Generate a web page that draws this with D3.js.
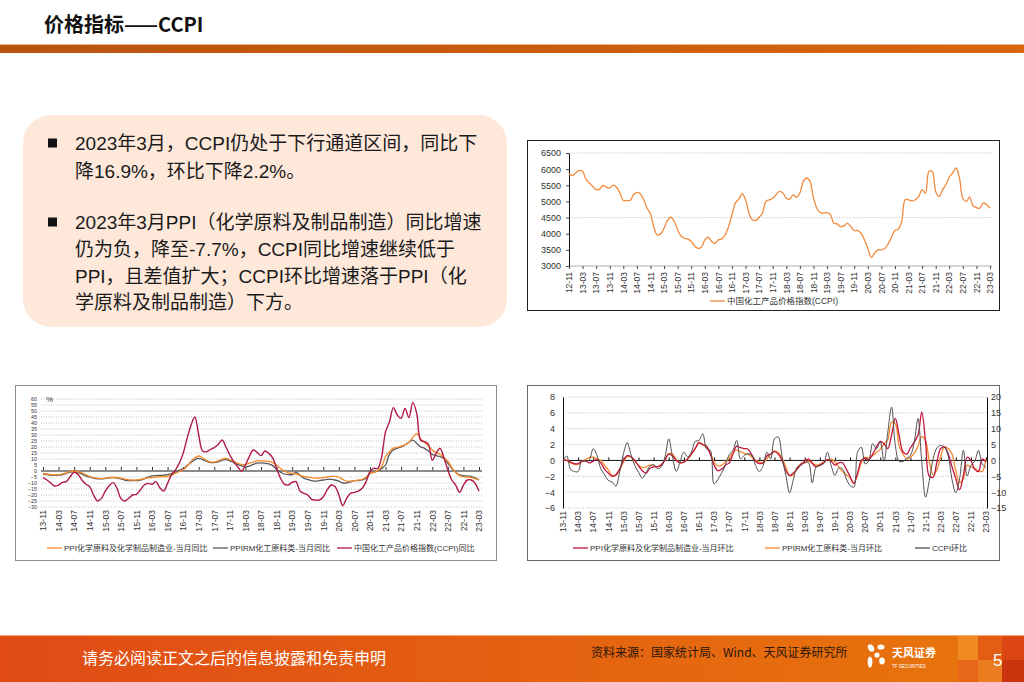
<!DOCTYPE html>
<html>
<head>
<meta charset="utf-8">
<title>价格指标——CCPI</title>
<script src="https://cdn.jsdelivr.net/npm/d3@7"></script>
<style>
  body { margin: 0; background: #fff; }
  svg { display: block; font-family: "Liberation Sans", "Noto Sans CJK SC", sans-serif; }
  .narrow { font-family: "Liberation Sans Narrow", "Liberation Sans", "Noto Sans CJK SC", sans-serif; }
  .cjk { font-family: "Noto Sans CJK SC", "Liberation Sans", sans-serif; }
</style>
</head>
<body>
<svg id="slide" width="1024" height="682"></svg>
<script>
// ---- data ----
// CCPI level, monthly from 2012-11 to 2023-03
var levelTicks = ['12-11','13-03','13-07','13-11','14-03','14-07','14-11','15-03','15-07','15-11','16-03','16-07',
  '16-11','17-03','17-07','17-11','18-03','18-07','18-11','19-03','19-07','19-11','20-03','20-07','20-11',
  '21-03','21-07','21-11','22-03','22-07','22-11','23-03'];
var levelYTicks = [3000, 3500, 4000, 4500, 5000, 5500, 6000, 6500];
var levelGrid = [6500, 4500];
var ccpiLevel = [5850, 5800,
  5880, 5960, 5930, 5690, 5570, 5465, 5360, 5380, 5495, 5440, 5410, 5505,
  5440, 5260, 5030, 5030, 5030, 5205, 5280, 5240, 5050, 4790, 4615, 4200,
  3960, 3995, 4170, 4410, 4510, 4380, 4120, 3930, 3860, 3830, 3760, 3620,
  3550, 3580, 3810, 3890, 3760, 3705, 3810, 3840, 3960, 4220, 4585, 4950,
  5070, 5240, 5050, 4640, 4430, 4410, 4510, 4640, 5000, 5050, 5100, 5205,
  5310, 5260, 5100, 5070, 5205, 5130, 5260, 5620, 5725, 5620, 5100, 4790,
  4655, 4640, 4655, 4585, 4325, 4305, 4220, 4245, 4325, 4220, 4100, 4100,
  4015, 3810, 3550, 3270, 3395, 3500, 3500, 3540, 3685, 3890, 4100, 4140,
  4380, 5050, 5050, 5010, 5050, 5155, 5360, 5260, 5930, 5930, 5310, 5155,
  5360, 5515, 5755, 5880, 6035, 5725, 5100, 5000, 5130, 4865, 4810, 4790,
  4950, 4895, 4790];

// year-on-year, % (monthly from 2013-11 to 2023-03)
var rateTicks = levelTicks.slice(3);
var yoyYTicks = [60, 55, 50, 45, 40, 35, 30, 25, 20, 15, 10, 5, 0, -5, -10, -15, -20, -25, -30];
var ppiChemYoY = [
  -2, -2.5, -3, -3, -3.2, -2.5, -1.5, -0.5, 0, -0.5,
  -1.5, -3, -4.5, -5.5, -6, -6.3, -6, -5.5, -5.2, -5.5,
  -6, -6.8, -7.3, -7.5, -7.5, -7, -6.5, -5.8, -5.5, -5,
  -4.8, -4.6, -4.5, -3.5, -2, -0.5, 1, 4, 8, 11,
  12.5, 11, 9, 7.5, 7.5, 8.5, 10, 10.5, 9.5, 8,
  6.5, 5.5, 5.5, 6.5, 7.5, 8.5, 8.5, 8.5, 8, 7,
  5, 2, 0, -1.5, -2, -2.5, -3.5, -4.5, -5, -5.5,
  -6, -6, -5.5, -5, -4.5, -4.5, -5, -7, -8.5, -8.5,
  -8, -7.5, -7, -5, -2, -1.1, 0.3, 3.6, 12, 16,
  19, 19.7, 20.8, 21.7, 24, 27.8, 31.4, 26.7, 24, 21,
  17.5, 15.3, 13.9, 11, 8.3, 2.8, -1.1, -3.9, -4.7, -5,
  -5.5, -6.4, -7.7];
var ppirmYoY = [
  -2.5, -3, -3.5, -3.5, -3.5, -3, -2, -1, -0.5, -1,
  -2.5, -4, -5, -6, -6.5, -6.5, -6.2, -5.8, -5.5, -6,
  -6.5, -7.5, -8, -8, -8, -7.5, -6.5, -5, -4, -3.8,
  -3.6, -3.5, -3, -2.2, -1, 0.5, 2, 4.5, 7, 9.5,
  10.5, 9.5, 8, 7, 7, 7.5, 9, 9.5, 8.5, 7,
  5.5, 4.2, 3.5, 4, 5.5, 6.5, 6.8, 6.5, 6, 4.5,
  1.5, -1, -2.5, -3, -3, -1, -3.5, -6, -7, -8,
  -8.5, -8, -7.5, -7, -7, -7.5, -8.5, -10, -10, -9,
  -8, -8, -7.5, -6, -2, -1, 0, 2.2, 5, 13.9,
  17.5, 18.9, 20, 21.7, 24, 25.8, 23, 20, 18.9, 16.7,
  13.9, 12.8, 12, 10.5, 6.4, 2.2, -1.1, -3.3, -3.9, -4.2,
  -4.4, -5.8, -7.5];
var ccpiYoY = [
  -5.6, -7.5, -10, -12.5, -11.7, -9.4, -8.9, -4.7, -1, -2.8,
  -7.5, -11, -13, -20, -25, -22.8, -16.7, -12.2, -9.7, -14.4,
  -22.8, -25, -22.8, -20, -19.4, -15.8, -11.7, -10.3, -11, -8.9,
  -13.9, -16.7, -10.3, -3.3, 0.8, 6.4, 14.7, 27, 38, 45,
  30, 16.7, 16, 18, 19.4, 22, 25.8, 20, 13.3, 7.8,
  3.6, 0, 5, 12, 17.5, 15.5, 12.8, 16.7, 14.7, 11,
  2.2, -6, -11, -11.7, -9.4, -8.9, -16.7, -18.6, -20, -23.6,
  -24.2, -24.2, -21.4, -15.8, -11.7, -13, -20, -28.9, -22.8, -18.6,
  -17.8, -16.7, -14.4, -8.9, -0.6, 2.2, 2.2, 12, 32.8, 41,
  52.8, 46.7, 43.9, 52.2, 44.4, 57.2, 48, 25.8, 24.4, 22.2,
  9.2, 14.7, 18.9, 11, 0.8, -7.5, -11.7, -17.8, -11.7, -7.5,
  -7.5, -10.3, -16.9];

// month-on-month, % (PPI series on left axis, CCPI on right axis)
var momLeftTicks = [8, 6, 4, 2, 0, -2, -4, -6];
var momRightTicks = [20, 15, 10, 5, 0, -5, -10, -15];
var ppiChemMoM = [
  0.1, 0, -0.2, -0.4, -0.4, -0.1, -0.1, -0.3, -0.1, 0.1,
  -0.3, -1.1, -1.6, -2.0, -1.8, -1.1, 0, 0.6, 0.5, 0,
  -0.7, -1.3, -1.6, -1.0, -0.8, -0.8, -0.6, 0.1, 0.8, 0.6,
  0, -0.3, -0.2, 0.2, 0.8, 1.5, 2.2, 2.0, 1.8, 0.8,
  -0.6, -1.3, -1.1, -0.6, -0.3, 0.8, 1.8, 1.6, 1.5, 1.4,
  0.7, -0.1, -0.4, -0.3, 0.6, 0.8, 1.1, 0.8, 0, -1.3,
  -1.9, -1.6, -1.1, -0.5, -0.1, 0.2, -0.4, -0.8, -0.6, -0.3,
  0.1, -0.1, -0.6, -0.3, -0.3, -1.1, -2.0, -2.9, -1.6, 0,
  0.3, 0.1, 0.8, 1.7, 2.4, 2.1, 1.5, 3.2, 5.3, 3.2,
  1.1, 0.8, 1.6, 2.3, 3.2, 6.1, 2.3, -2.0, -2.1, -0.2,
  1.5, 1.7, 0.8, -0.8, -2.3, -3.7, -1.9, 0.4, 0, -1.1,
  -1.4, 0.2, -0.2];
var ppirmMoM = [
  0.1, 0, -0.3, -0.5, -0.5, -0.2, 0.1, 0.4, 0.4, 0.2,
  0, -0.6, -1.2, -1.9, -1.9, -1.2, -0.2, 0.5, 0.4, -0.1,
  -0.6, -0.9, -0.8, -0.6, -0.7, -0.8, -0.5, 0, 0.9, 0.8,
  0.1, -0.3, -0.2, 0.2, 0.8, 1.5, 2.3, 2.0, 1.6, 0.9,
  -0.2, -0.7, -0.6, -0.2, 0.3, 1.0, 1.3, 1.1, 0.9, 0.8,
  0.4, 0, -0.2, -0.3, 0.2, 0.8, 1.2, 1.0, 0.3, -0.8,
  -1.9, -1.8, -1.0, -0.4, -0.3, -0.1, -0.3, -0.6, -0.5, -0.2,
  0.1, 0.2, -0.2, -0.8, -1.4, -1.8, -2.2, -2.9, -1.8, -0.3,
  0.4, 0.3, 0.6, 1.0, 1.4, 2.1, 2.6, 4.8, 4.6, 1.8,
  0.8, 0.2, 0.4, 0.9, 1.8, 3.0, 2.5, -0.2, -1.8, -1.2,
  0.5, 1.7, 1.5, 0.8, -1.3, -2.8, -2.3, -0.6, -0.8, -1.0,
  -1.3, -1.4, 0.2];
var ccpiMoM = [
  0, 1.4, -2.8, -3.5, -3.5, 0, -0.3, 0.3, 3.7, 1.6,
  -2.6, -4.5, -6.3, -6.8, -8.1, -3.7, 2.1, 5.6, 1.8, -1.6,
  -3.7, -5.6, -3.9, -1.8, -1.3, -2.6, -2.1, 1.1, 6.8, 1.1,
  -3.5, -0.5, 2.6, 1.1, 2.6, 6.0, 6.3, 8.4, 3.7, 3.2,
  -7.4, -6.0, -3.9, -1.4, 1.8, 3.2, 6.3, 0.5, 1.6, 2.1,
  1.6, -1.6, -3.5, -1.6, 2.6, 0.5, 6.8, 7.4, 1.1, -4.7,
  -10.2, -6.0, -2.1, -1.6, -0.7, -0.7, -7.1, -2.1, -1.6, -1.1,
  2.6, -1.6, -4.7, -2.4, -2.6, -5.8, -7.9, -8.4, 2.6, 4.2,
  -1.1, 0, 5.3, 3.7, 5.8, -0.3, 8.9, 16.8, 4.7, -0.3,
  -0.3, 0.7, 1.6, 5.8, 13.2, -0.7, -11.6, -6.3, 0.5, 3.9,
  4.7, 4.2, 1.4, -6.0, -10.2, -5.8, 3.2, -4.9, -1.6, -0.3,
  3.2, -1.1, -2.2];

var bullets = [
  ['2023年3月，CCPI仍处于下行通道区间，同比下', '降16.9%，环比下降2.2%。'],
  ['2023年3月PPI（化学原料及制品制造）同比增速', '仍为负，降至-7.7%，CCPI同比增速继续低于',
   'PPI，且差值扩大；CCPI环比增速落于PPI（化', '学原料及制品制造）下方。']
];

// ---- helpers ----
function monthLabels(y, m, n) {
  var out = [];
  for (var i = 0; i < n; i++) {
    var t = m - 1 + i, yy = y + Math.floor(t / 12), mm = t % 12 + 1;
    out.push(String(yy).slice(-2) + '-' + (mm < 10 ? '0' : '') + mm);
  }
  return out;
}
var levelMonths = monthLabels(2012, 11, ccpiLevel.length);
var rateMonths = monthLabels(2013, 11, ccpiYoY.length);
var smooth = d3.curveCatmullRom.alpha(0.5);

var svg = d3.select('#slide');

function drawLine(g, x, y, months, values, color, width) {
  g.append('path')
    .datum(values)
    .attr('fill', 'none')
    .attr('stroke', color)
    .attr('stroke-width', width)
    .attr('stroke-linejoin', 'round')
    .attr('d', d3.line().curve(smooth)
      .x(function(d, i) { return x(months[i]); })
      .y(function(d) { return y(d); }));
}

function rotatedXAxis(g, x, ticks, yPos, tickLen) {
  var ax = g.append('g')
    .attr('class', 'narrow')
    .attr('transform', 'translate(0,' + yPos + ')')
    .call(d3.axisBottom(x).tickValues(ticks).tickSizeInner(tickLen).tickSizeOuter(0));
  ax.select('.domain').remove();
  ax.selectAll('.tick line').attr('stroke', '#444');
  ax.selectAll('.tick text')
    .attr('transform', 'rotate(-90)')
    .attr('x', -(tickLen + 3)).attr('y', 0).attr('dy', '0.32em')
    .style('text-anchor', 'end')
    .attr('font-size', 8.5).attr('fill', '#333');
  return ax;
}

function zeroTicks(g, x, ticks, yPos, color) {
  var ax = g.append('g')
    .attr('transform', 'translate(0,' + yPos + ')')
    .call(d3.axisBottom(x).tickValues(ticks).tickSizeInner(-3).tickSizeOuter(0).tickFormat(''));
  ax.select('.domain').remove();
  ax.selectAll('.tick line').attr('stroke', color);
}

function grid(g, y, values, x0, x1) {
  g.selectAll(null)
    .data(values.filter(function(v) { return v !== 0; }))
    .enter().append('line')
    .attr('x1', x0).attr('x2', x1)
    .attr('y1', function(d) { return y(d); }).attr('y2', function(d) { return y(d); })
    .attr('stroke', '#b0b0b0').attr('stroke-width', 0.8).attr('stroke-dasharray', '1,1.5');
}

function legend(g, items, yPos, size) {
  items.forEach(function(it) {
    g.append('line').attr('x1', it.x).attr('x2', it.x + 15).attr('y1', yPos).attr('y2', yPos)
      .attr('stroke', it.color).attr('stroke-width', 1.3);
    g.append('text').attr('x', it.x + 17).attr('y', yPos).attr('dy', '0.35em')
      .attr('font-size', size).attr('fill', '#333').text(it.label);
  });
}

// ---- header ----
var defs = svg.append('defs');
var hg = defs.append('linearGradient').attr('id', 'hdrGrad');
hg.append('stop').attr('offset', '0%').attr('stop-color', '#b9530f');
hg.append('stop').attr('offset', '100%').attr('stop-color', '#d8660b');
var fg = defs.append('linearGradient').attr('id', 'ftrGrad');
fg.append('stop').attr('offset', '0%').attr('stop-color', '#e04b16');
fg.append('stop').attr('offset', '100%').attr('stop-color', '#e8760c');

svg.append('text').attr('class', 'cjk').attr('x', 44).attr('y', 32)
  .attr('font-size', 20).attr('font-weight', 'bold').attr('fill', '#111')
  .text('价格指标——CCPI');
svg.append('rect').attr('x', 0).attr('y', 44).attr('width', 1024).attr('height', 1).attr('fill', '#eab48c');
svg.append('rect').attr('x', 0).attr('y', 45).attr('width', 1024).attr('height', 8).attr('fill', 'url(#hdrGrad)');

// ---- text box ----
svg.append('rect').attr('x', 23).attr('y', 115).attr('width', 484).attr('height', 212)
  .attr('rx', 28).attr('fill', '#fde8da');
var lineY = [[143, 171], [222, 249, 276, 302]];
bullets.forEach(function(lines, b) {
  svg.append('rect').attr('x', 48).attr('y', lineY[b][0] - 4.5).attr('width', 9).attr('height', 9).attr('fill', '#111');
  lines.forEach(function(t, i) {
    svg.append('text').attr('x', 75).attr('y', lineY[b][i] + 6.5)
      .attr('font-size', 19).attr('fill', '#1a1a1a').text(t);
  });
});

// ---- chart A: CCPI level ----
var chartA = svg.append('g');
chartA.append('rect').attr('x', 527.5).attr('y', 140.5).attr('width', 472).attr('height', 170)
  .attr('fill', '#fff').attr('stroke', '#222');
var xA = d3.scalePoint().domain(levelMonths).range([569, 990]);
var yA = d3.scaleLinear().domain([3000, 6500]).range([266, 153]);
grid(chartA, yA, levelGrid, 569, 992);
chartA.append('line').attr('x1', 569).attr('x2', 992).attr('y1', 266).attr('y2', 266)
  .attr('stroke', '#999').attr('stroke-width', 0.8);
var yaA = chartA.append('g').attr('class', 'narrow').attr('transform', 'translate(569,0)')
  .call(d3.axisLeft(yA).tickValues(levelYTicks).tickSizeInner(3).tickSizeOuter(0).tickPadding(5).tickFormat(d3.format('d')));
yaA.select('.domain').attr('stroke', '#111');
yaA.selectAll('.tick line').attr('stroke', '#444');
yaA.selectAll('.tick text').attr('font-size', 9).attr('fill', '#333');
rotatedXAxis(chartA, xA, levelTicks, 266, 3);
drawLine(chartA, xA, yA, levelMonths, ccpiLevel, '#f08a3e', 1.3);
legend(chartA, [{ x: 710, color: '#f08a3e', label: '中国化工产品价格指数(CCPI)' }], 301, 8.5);

// ---- chart B: year-on-year ----
var chartB = svg.append('g');
chartB.append('rect').attr('x', 15.5).attr('y', 385.5).attr('width', 481).attr('height', 175)
  .attr('fill', '#fff').attr('stroke', '#8c8c8c');
var xB = d3.scalePoint().domain(rateMonths).range([43, 479]);
var yB = d3.scaleLinear().domain([-30, 60]).range([507, 399]);
grid(chartB, yB, yoyYTicks, 41, 482);
chartB.append('line').attr('x1', 41).attr('x2', 482).attr('y1', yB(0)).attr('y2', yB(0))
  .attr('stroke', '#8a8a8a').attr('stroke-width', 2);
zeroTicks(chartB, xB, rateTicks, yB(0) - 1, '#333');
// labels sit 6px apart here, so they are kept small enough not to collide
var yaB = chartB.append('g').attr('class', 'narrow').attr('transform', 'translate(41,0)')
  .call(d3.axisLeft(yB).tickValues(yoyYTicks).tickSizeInner(0).tickSizeOuter(0).tickPadding(4));
yaB.select('.domain').remove();
yaB.selectAll('.tick text').attr('font-size', 5.4).attr('fill', '#333');
chartB.append('text').attr('x', 46).attr('y', 402).attr('font-size', 8).attr('fill', '#333').text('%');
rotatedXAxis(chartB, xB, rateTicks, 507, 0);
drawLine(chartB, xB, yB, rateMonths, ppirmYoY, '#5a5a5a', 1.3);
drawLine(chartB, xB, yB, rateMonths, ppiChemYoY, '#f38b2c', 1.3);
drawLine(chartB, xB, yB, rateMonths, ccpiYoY, '#b01a45', 1.4);
legend(chartB, [
  { x: 47, color: '#f38b2c', label: 'PPI化学原料及化学制品制造业-当月同比' },
  { x: 213, color: '#5a5a5a', label: 'PPIRM化工原料类-当月同比' },
  { x: 337, color: '#b01a45', label: '中国化工产品价格指数(CCPI)同比' }
], 548, 8);

// ---- chart C: month-on-month ----
var chartC = svg.append('g');
chartC.append('rect').attr('x', 527.5).attr('y', 385.5).attr('width', 472).attr('height', 175)
  .attr('fill', '#fff').attr('stroke', '#666');
var xC = d3.scalePoint().domain(rateMonths).range([563, 986]);
var yCL = d3.scaleLinear().domain([-6, 8]).range([508, 397]);
var yCR = d3.scaleLinear().domain([-15, 20]).range([508, 397]);
grid(chartC, yCL, momLeftTicks, 563, 987);
chartC.append('line').attr('x1', 563).attr('x2', 987).attr('y1', yCL(0)).attr('y2', yCL(0))
  .attr('stroke', '#111').attr('stroke-width', 1);
zeroTicks(chartC, xC, rateTicks, yCL(0), '#111');
var yaCL = chartC.append('g').attr('transform', 'translate(563,0)')
  .call(d3.axisLeft(yCL).tickValues(momLeftTicks).tickSizeInner(0).tickSizeOuter(0).tickPadding(8));
yaCL.select('.domain').attr('stroke', '#111');
yaCL.selectAll('.tick text').attr('font-size', 9).attr('fill', '#333');
var yaCR = chartC.append('g').attr('transform', 'translate(987,0)')
  .call(d3.axisRight(yCR).tickValues(momRightTicks).tickSizeInner(0).tickSizeOuter(0).tickPadding(4));
yaCR.select('.domain').attr('stroke', '#111');
yaCR.selectAll('.tick text').attr('font-size', 9).attr('fill', '#333');
rotatedXAxis(chartC, xC, rateTicks, 508, 0);
drawLine(chartC, xC, yCL, rateMonths, ppirmMoM, '#f5892e', 1.3);
drawLine(chartC, xC, yCL, rateMonths, ppiChemMoM, '#c0153e', 1.3);
drawLine(chartC, xC, yCR, rateMonths, ccpiMoM, '#505050', 1);
legend(chartC, [
  { x: 573, color: '#c0153e', label: 'PPI化学原料及化学制品制造业-当月环比' },
  { x: 765, color: '#f5892e', label: 'PPIRM化工原料类-当月环比' },
  { x: 915, color: '#505050', label: 'CCPI环比' }
], 548, 8);

// ---- footer ----
svg.append('rect').attr('x', 0).attr('y', 636).attr('width', 1024).attr('height', 46).attr('fill', 'url(#ftrGrad)');
svg.append('rect').attr('x', 0).attr('y', 635).attr('width', 1024).attr('height', 1).attr('fill', '#f2a878');
var tiles = [
  [958, 636, 20, 24, '#f08a22'], [958, 660, 20, 22, '#e8661a'],
  [978, 636, 24, 24, '#e35d14'], [978, 660, 24, 22, '#e97d20'],
  [1002, 636, 22, 24, '#dc4612'], [1002, 660, 22, 22, '#c9340e']
];
svg.selectAll('.tile').data(tiles).enter().append('rect')
  .attr('x', function(d) { return d[0]; }).attr('y', function(d) { return d[1]; })
  .attr('width', function(d) { return d[2]; }).attr('height', function(d) { return d[3]; })
  .attr('fill', function(d) { return d[4]; });
svg.append('text').attr('class', 'cjk').attr('x', 82).attr('y', 664).attr('font-size', 16).attr('fill', '#fff')
  .text('请务必阅读正文之后的信息披露和免责申明');
svg.append('text').attr('class', 'cjk').attr('x', 591).attr('y', 657).attr('font-size', 12).attr('fill', '#2a160a')
  .text('资料来源：国家统计局、Wind、天风证券研究所');
var logo = svg.append('g').attr('fill', '#fff');
logo.append('ellipse').attr('cx', 871).attr('cy', 648).attr('rx', 2.8).attr('ry', 4).attr('transform', 'rotate(-30,871,648)');
logo.append('ellipse').attr('cx', 881).attr('cy', 647).attr('rx', 3.5).attr('ry', 2.6);
logo.append('ellipse').attr('cx', 877).attr('cy', 655).attr('rx', 2.6).attr('ry', 2.6);
logo.append('ellipse').attr('cx', 870).attr('cy', 662).attr('rx', 2.4).attr('ry', 5.5);
logo.append('ellipse').attr('cx', 882).attr('cy', 661).attr('rx', 2.8).attr('ry', 3.4);
logo.append('text').attr('class', 'cjk').attr('x', 892).attr('y', 657).attr('font-size', 11).attr('font-weight', 'bold')
  .text('天风证券');
logo.append('text').attr('x', 892).attr('y', 668).attr('font-size', 4.5).text('TF SECURITIES');
svg.append('text').attr('x', 993).attr('y', 666).attr('font-size', 17).attr('fill', '#fff').text('5');
</script>
</body>
</html>
